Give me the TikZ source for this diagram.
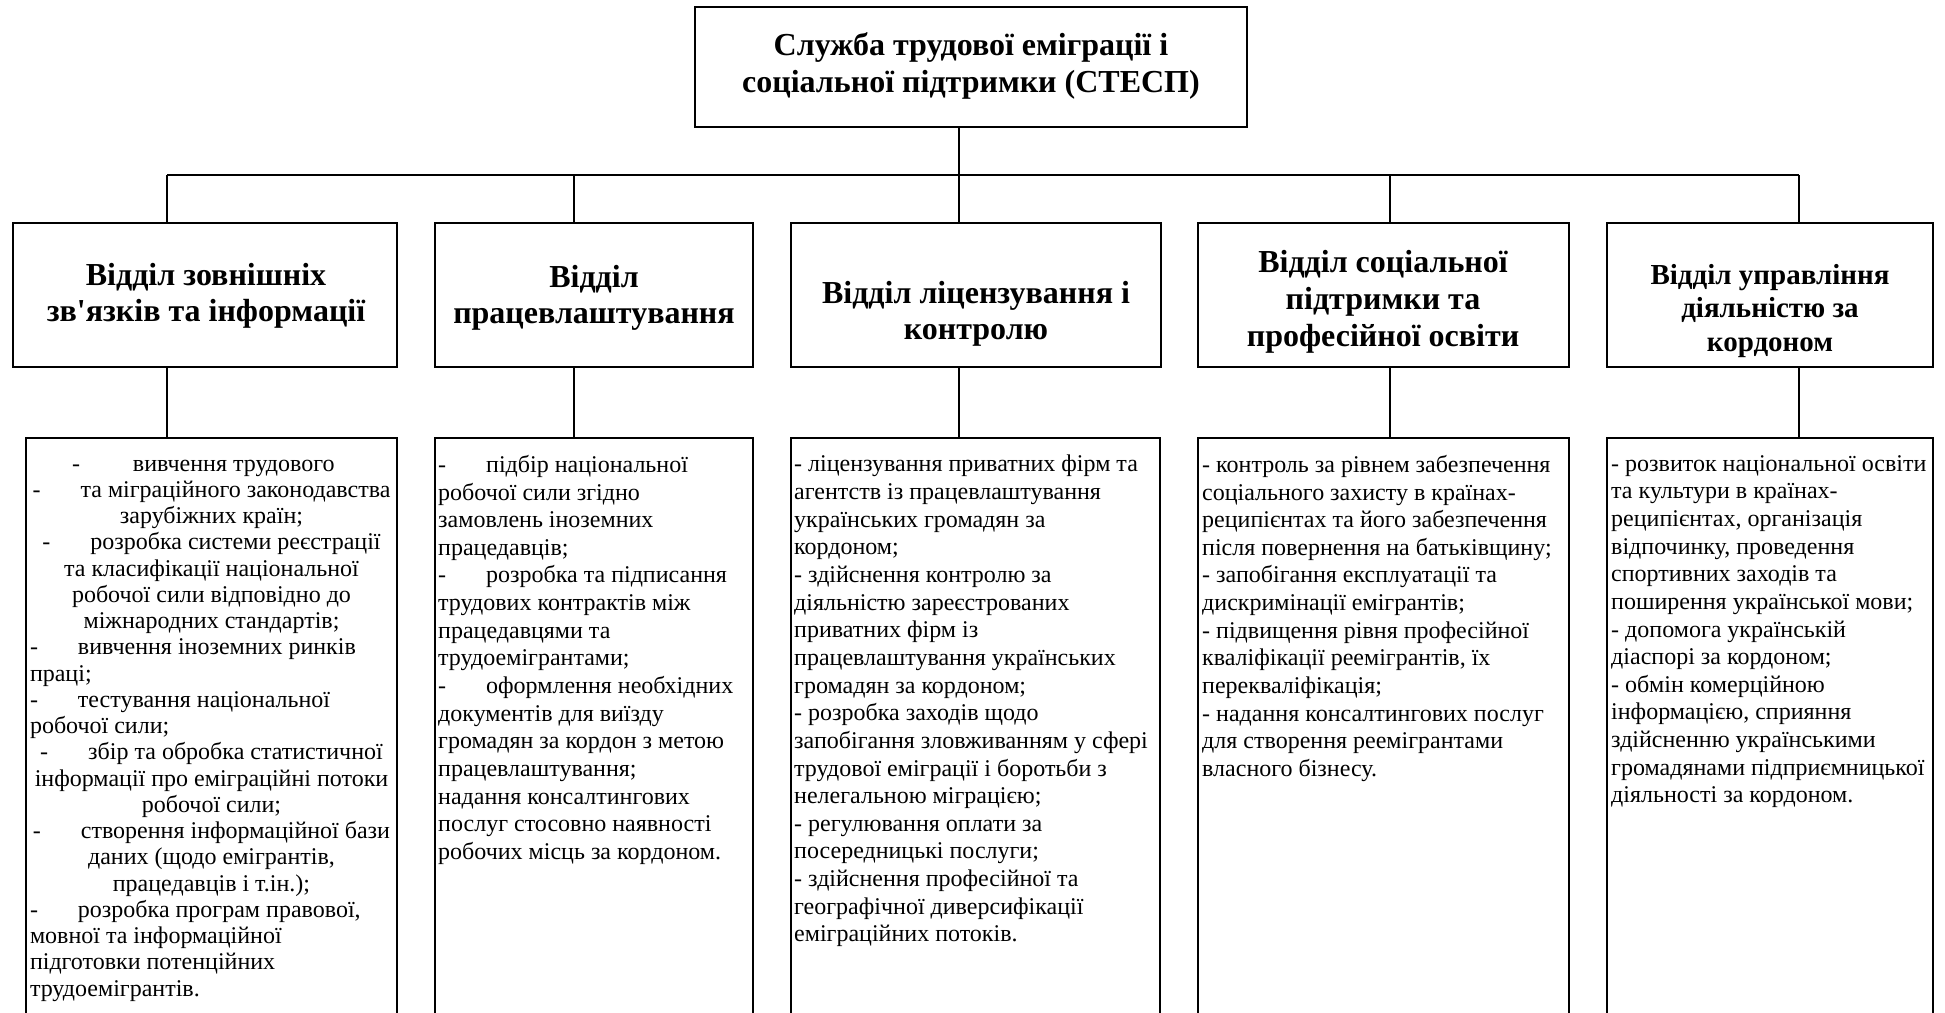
\documentclass[tikz,border=0pt]{standalone}
\usepackage{fontspec}
\setmainfont{Liberation Serif}[Ligatures=TeXOff]
\newlength{\bxw}
\setlength{\bxw}{363pt}
\newcommand{\lft}[1]{\makebox[\bxw][l]{#1}}
\newcommand{\tb}{-\hspace{40pt}}
\tikzset{
 box/.style={draw, line width=1.6pt, rectangle, inner sep=0pt},
 conn/.style={line width=1.3pt},
 head/.style={font=\fontsize{32}{36}\selectfont\bfseries, align=center, inner sep=0pt},
 body/.style={font=\fontsize{24}{27.65}\selectfont, align=left, inner sep=0pt, anchor=north west},
 bodyc/.style={font=\fontsize{24}{26.25}\selectfont, align=center, inner sep=0pt, anchor=north},
}
\begin{document}
\begin{tikzpicture}[x=1pt,y=-1pt]
\useasboundingbox (0,0) rectangle (1945,1012);
\clip (0,0) rectangle (1945,1012);
\fill[white] (0,0) rectangle (1945,1012);
% top
\node[box, minimum width=552pt, minimum height=120pt] (top) at (971,67) {};
\node[head, font=\fontsize{32}{37}\selectfont\bfseries] (toptxt) at (971,66) {Служба трудової еміграції і\\соціальної підтримки (СТЕСП)};
% middle boxes
\node[box, minimum width=384pt, minimum height=144pt] (d1) at (205,295) {};
\node[box, minimum width=318pt, minimum height=144pt] (d2) at (594,295) {};
\node[box, minimum width=370pt, minimum height=144pt] (d3) at (976,295) {};
\node[box, minimum width=371pt, minimum height=144pt] (d4) at (1383.5,295) {};
\node[box, minimum width=326pt, minimum height=144pt] (d5) at (1770,295) {};
\node[head] (h1) at (206,296) {Відділ зовнішніх\\зв'язків та інформації};
\node[head] (h2) at (594,298) {Відділ\\працевлаштування};
\node[head] (h3) at (976,314) {Відділ ліцензування і\\контролю};
\node[head, font=\fontsize{32}{37}\selectfont\bfseries] (h4) at (1383,302) {Відділ соціальної\\підтримки та\\професійної освіти};
\node[head, font=\fontsize{29}{33.5}\selectfont\bfseries] (h5) at (1770,311) {Відділ управління\\діяльністю за\\кордоном};
% bottom boxes
\node[box, minimum width=371pt, minimum height=662pt] (b1) at (211.5,769) {};
\node[box, minimum width=318pt, minimum height=662pt] (b2) at (594,769) {};
\node[box, minimum width=369pt, minimum height=662pt] (b3) at (975.5,769) {};
\node[box, minimum width=371pt, minimum height=662pt] (b4) at (1383.5,769) {};
\node[box, minimum width=326pt, minimum height=662pt] (b5) at (1770,769) {};
% texts
\node[bodyc] (t1) at (211.5,459.5) {\lft{\hspace*{42pt}-\hspace{53pt}вивчення трудового}\\
\tb та міграційного законодавства\\
зарубіжних країн;\\
\tb розробка системи реєстрації\\
та класифікації національної\\
робочої сили відповідно до\\
міжнародних стандартів;\\
\lft{\tb вивчення іноземних ринків}\\
\lft{праці;}\\
\lft{\tb тестування національної}\\
\lft{робочої сили;}\\
\tb збір та обробка статистичної\\
інформації про еміграційні потоки\\
робочої сили;\\
\tb створення інформаційної бази\\
даних (щодо емігрантів,\\
працедавців і т.ін.);\\
\lft{\tb розробка програм правової,}\\
\lft{мовної та інформаційної}\\
\lft{підготовки потенційних}\\
\lft{трудоемігрантів.}};
\node[body] (t2) at (438,455) {\tb підбір національної\\
робочої сили згідно\\
замовлень іноземних\\
працедавців;\\
\tb розробка та підписання\\
трудових контрактів між\\
працедавцями та\\
трудоемігрантами;\\
\tb оформлення необхідних\\
документів для виїзду\\
громадян за кордон з метою\\
працевлаштування;\\
надання консалтингових\\
послуг стосовно наявності\\
робочих місць за кордоном.};
\node[body] (t3) at (794,455) {- ліцензування приватних фірм та\\
агентств із працевлаштування\\
українських громадян за\\
кордоном;\\
- здійснення контролю за\\
діяльністю зареєстрованих\\
приватних фірм із\\
працевлаштування українських\\
громадян за кордоном;\\
- розробка заходів щодо\\
запобігання зловживанням у сфері\\
трудової еміграції і боротьби з\\
нелегальною міграцією;\\
- регулювання оплати за\\
посередницькі послуги;\\
- здійснення професійної та\\
географічної диверсифікації\\
еміграційних потоків.};
\node[body] (t4) at (1202,455) {- контроль за рівнем забезпечення\\
соціального захисту в країнах-\\
реципієнтах та його забезпечення\\
після повернення на батьківщину;\\
- запобігання експлуатації та\\
дискримінації емігрантів;\\
- підвищення рівня професійної\\
кваліфікації реемігрантів, їх\\
перекваліфікація;\\
- надання консалтингових послуг\\
для створення реемігрантами\\
власного бізнесу.};
\node[body] (t5) at (1611,455) {- розвиток національної освіти\\
та культури в країнах-\\
реципієнтах, організація\\
відпочинку, проведення\\
спортивних заходів та\\
поширення української мови;\\
- допомога українській\\
діаспорі за кордоном;\\
- обмін комерційною\\
інформацією, сприяння\\
здійсненню українськими\\
громадянами підприємницької\\
діяльності за кордоном.};
% connectors
\coordinate (c1) at (167,175);
\coordinate (c2) at (574,175);
\coordinate (c3) at (959,175);
\coordinate (c4) at (1390,175);
\coordinate (c5) at (1799,175);
\draw[conn] (c1) -- (c5);
\draw[conn] (top.south -| c3) -- (c3);
\foreach \i in {1,...,5}{
  \draw[conn] (c\i) -- (c\i |- d\i.north);
  \draw[conn] (c\i |- d\i.south) -- (c\i |- b\i.north);
}
\end{tikzpicture}
\end{document}
